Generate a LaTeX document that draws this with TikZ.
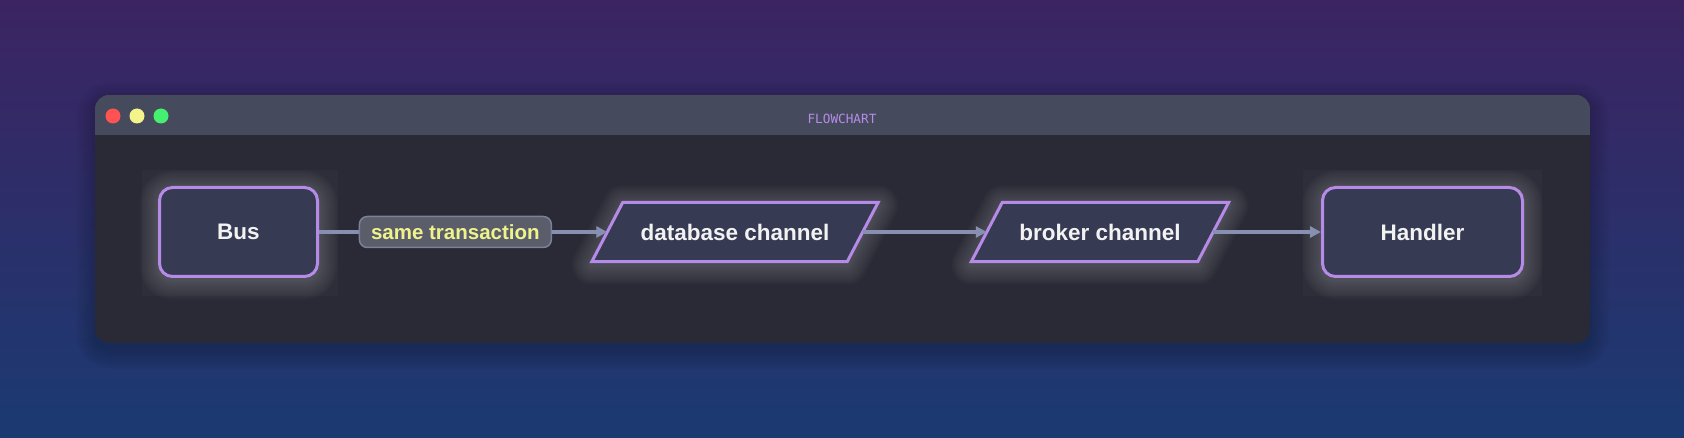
\documentclass[tikz,border=0pt]{standalone}
\usepackage{fontspec}
\setmainfont{Liberation Sans}
\newfontfamily\titlemono{DejaVu Sans Mono}
\usetikzlibrary{arrows.meta,calc}
\definecolor{bgtop}{HTML}{3C2462}
\definecolor{bgbot}{HTML}{1B3A72}
\definecolor{winbar}{HTML}{464A5D}
\definecolor{winbody}{HTML}{292A36}
\definecolor{halo}{HTML}{2D2E3A}
\definecolor{nodefill}{HTML}{363A52}
\definecolor{nodeline}{HTML}{B68BE8}
\definecolor{edgecol}{HTML}{8790B0}
\definecolor{lblfill}{HTML}{5C5D6B}
\definecolor{lblline}{HTML}{7B8199}
\definecolor{lbltext}{HTML}{EEF38B}
\definecolor{titlecol}{HTML}{B58CEA}
\definecolor{redlight}{HTML}{FF5252}
\definecolor{yellowlight}{HTML}{F4F48A}
\definecolor{greenlight}{HTML}{45F070}
\tikzset{
  glowlayer/.style={preaction={draw=white,draw opacity=0.02,line width=#1,line join=round,
                    transform canvas={yshift=-3pt}}},
  glow/.style={glowlayer=40pt,glowlayer=36pt,glowlayer=32pt,glowlayer=28pt,glowlayer=24pt,
               glowlayer=20pt,glowlayer=16pt,glowlayer=12pt,glowlayer=8pt,glowlayer=5pt},
  procbox/.style={rectangle,rounded corners=13pt,draw=nodeline,line width=3pt,fill=nodefill,
                  text=white!95!black,font=\fontsize{22.5}{26}\selectfont\bfseries,
                  minimum height=89pt,inner sep=0pt,glow},
  iobox/.style={rectangle,draw=none,minimum height=59pt,inner sep=0pt,
                text=white!95!black,font=\fontsize{22.5}{26}\selectfont\bfseries},
  iopath/.style={draw=nodeline,line width=3pt,fill=nodefill,line join=miter,glow},
  edge/.style={draw=edgecol,line width=3.2pt,-{Triangle[length=11pt,width=11pt]}},
  edgelabel/.style={rectangle,rounded corners=8pt,draw=lblline,line width=1.5pt,fill=lblfill,
                    text=lbltext,font=\fontsize{20.5}{24}\selectfont\bfseries,
                    minimum width=192pt,minimum height=31pt,inner sep=0pt},
  light/.style={circle,minimum size=15pt,inner sep=0pt}
}
\begin{document}
\begin{tikzpicture}[x=1pt,y=-1pt]
\useasboundingbox (0,0) rectangle (1684,438);
% background
\shade[top color=bgtop,bottom color=bgbot] (0,0) rectangle (1684,438);
% window shadow (soft)
\foreach \s in {1,3,...,19}{
  \fill[black,opacity=0.018,rounded corners=14pt+\s pt] (95-\s,101-\s) rectangle (1590+\s,343+\s+6);
}
% window
\fill[winbody,rounded corners=14pt] (95,95) rectangle (1590,343);
\begin{scope}
  \clip[rounded corners=14pt] (95,95) rectangle (1590,160);
  \fill[winbar] (95,95) rectangle (1590,135);
\end{scope}
\node[light,fill=redlight] (red) at (113,116) {};
\node[light,fill=yellowlight] (yellow) at (137,116) {};
\node[light,fill=greenlight] (green) at (161,116) {};
\node[text=titlecol,font=\titlemono\fontsize{12.7}{14}\selectfont] (title) at (842,119) {FLOWCHART};
% halo panels behind rounded nodes
\fill[halo] (142,170) rectangle (338,296);
\fill[halo] (1303,170) rectangle (1542,296);
% nodes
\node[procbox,minimum width=158pt] (bus) at (238.5,232) {Bus};
\node[procbox,minimum width=200pt] (handler) at (1422.5,232) {Handler};
\node[iobox,minimum width=255pt] (db) at (735,232) {};
\node[iobox,minimum width=226pt] (broker) at (1100,232) {};
\path[iopath] ($(db.south west)+(-15.5,0)$) -- ($(db.north west)+(15.5,0)$) -- ($(db.north east)+(15.5,0)$) -- ($(db.south east)+(-15.5,0)$) -- cycle;
\path[iopath] ($(broker.south west)+(-15.5,0)$) -- ($(broker.north west)+(15.5,0)$) -- ($(broker.north east)+(15.5,0)$) -- ($(broker.south east)+(-15.5,0)$) -- cycle;
\node[iobox] (dbtext) at (db.center) {database channel};
\node[iobox] (brokertext) at (broker.center) {broker channel};
% edges
\draw[edge] (bus.east) -- (db.west) node[edgelabel,pos=0.473] (lbl) {same transaction};
\draw[edge] (db.east) -- (broker.west);
\draw[edge] (broker.east) -- (handler.west);
\end{tikzpicture}
\end{document}
